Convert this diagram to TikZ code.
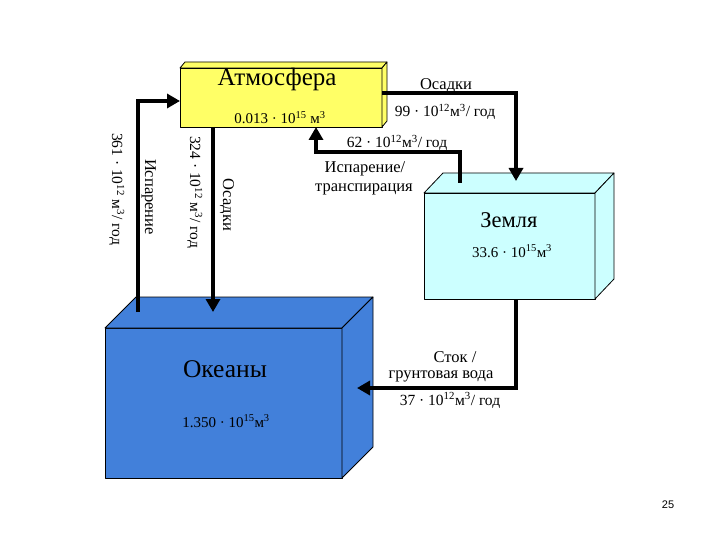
\documentclass[tikz,border=0pt]{standalone}
\usepackage{fontspec}
\setmainfont{Liberation Serif}
\newfontfamily\pnfont{Liberation Sans}
\usetikzlibrary{arrows.meta}
\definecolor{atmcol}{RGB}{255,255,102}
\definecolor{landcol}{RGB}{204,255,255}
\definecolor{oceancol}{RGB}{66,128,218}
\tikzset{
  face/.style={draw=black,line width=0.8pt,line join=round},
  front/.style={face,inner sep=0pt,outer sep=0pt},
  flow/.style={line width=3.6pt,-{Triangle[length=13pt,width=14pt]}},
  title/.style={font=\fontsize{24}{26}\selectfont,anchor=base,inner sep=0pt},
  val/.style={font=\fontsize{15}{17}\selectfont,anchor=base,inner sep=0pt},
  lab/.style={font=\fontsize{16.5}{18}\selectfont,anchor=base,inner sep=0pt},
  nlab/.style={font=\fontsize{15.5}{18}\selectfont,anchor=base,inner sep=0pt},
  vlab/.style={lab,rotate=-90},
  vnlab/.style={nlab,rotate=-90}
}
\newcommand{\tn}[1]{\textsuperscript{#1}}
\begin{document}
\begin{tikzpicture}[x=1pt,y=-1pt]
\useasboundingbox (0,0) rectangle (720,540);
% Atmosphere
\node[front,fill=atmcol,minimum width=202pt,minimum height=59pt] (atm) at (281,97.5) {};
\draw[face,fill=atmcol] (atm.north west) -- ++(5,-6) -- ++(202,0) -- (atm.north east) -- cycle;
\draw[face,fill=atmcol] (atm.north east) -- ++(5,-6) -- ++(0,59) -- (atm.south east) -- cycle;
% Land
\node[front,fill=landcol,minimum width=171pt,minimum height=106pt] (land) at (509.5,246) {};
\draw[face,fill=landcol] (land.north west) -- ++(19,-20) -- ++(171,0) -- (land.north east) -- cycle;
\draw[face,fill=landcol] (land.north east) -- ++(19,-20) -- ++(0,106) -- (land.south east) -- cycle;
% Ocean
\node[front,fill=oceancol,minimum width=237pt,minimum height=150pt] (ocean) at (223.5,403) {};
\draw[face,fill=oceancol] (ocean.north west) -- ++(31,-31) -- ++(237,0) -- (ocean.north east) -- cycle;
\draw[face,fill=oceancol] (ocean.north east) -- ++(31,-31) -- ++(0,150) -- (ocean.south east) -- cycle;

% box texts
\node[title,font=\fontsize{25}{27}\selectfont] (tatm) at (277,86) {Атмосфера};
\node[val] (vatm) at (280,124) {0.013 · 10\tn{15} м\tn{3}};
\node[title,font=\fontsize{22.5}{25}\selectfont] (tland) at (509,227) {Земля};
\node[val] (vland) at (512,257) {33.6 · 10\tn{15}м\tn{3}};
\node[title,font=\fontsize{25.5}{28}\selectfont] (tocean) at (225,377) {Океаны};
\node[val] (vocean) at (226,427) {1.350 · 10\tn{15}м\tn{3}};

% connector points
\coordinate (oe1) at (138,312);
\coordinate (oe2) at (138,101);
\coordinate (ae) at (180,101);
\coordinate (op1) at (213,127);
\coordinate (op2) at (213,312);
\coordinate (lp1) at (382,93);
\coordinate (lp2) at (516,93);
\coordinate (lp3) at (516,181);
\coordinate (le1) at (460,183);
\coordinate (le2) at (460,152);
\coordinate (le3) at (316,152);
\coordinate (le4) at (316,127);
\coordinate (r1) at (516,299);
\coordinate (r2) at (516,388);
\coordinate (r3) at (357,388);

\draw[flow] (oe1) -- (oe2) -- (ae);
\draw[flow] (op1) -- (op2);
\draw[flow] (lp1) -- (lp2) -- (lp3);
\draw[flow] (le1) -- (le2) -- (le3) -- (le4);
\draw[flow] (r1) -- (r2) -- (r3);

% labels
\node[lab] (l1) at (446,90) {Осадки};
\node[nlab] (l2) at (445,117) {99 · 10\tn{12}м\tn{3}/ год};
\node[nlab] (l3) at (397,148) {62 · 10\tn{12}м\tn{3}/ год};
\node[lab] (l4) at (365,173) {Испарение/};
\node[lab] (l5) at (364,192) {транспирация};
\node[lab] (l6) at (455,362) {Сток /};
\node[lab] (l7) at (441,378) {грунтовая вода};
\node[nlab] (l8) at (450,405) {37 · 10\tn{12}м\tn{3}/ год};

\node[vnlab] (v1) at (112,189) {361 · 10\tn{12} м\tn{3}/ год};
\node[vlab] (v2) at (145,197) {Испарение};
\node[vnlab] (v3) at (190,192) {324 · 10\tn{12} м\tn{3}/ год};
\node[vlab] (v4) at (223,205) {Осадки};

\node[font=\pnfont\fontsize{11}{13}\selectfont,inner sep=0pt] (pn) at (668,505) {25};
\end{tikzpicture}
\end{document}
